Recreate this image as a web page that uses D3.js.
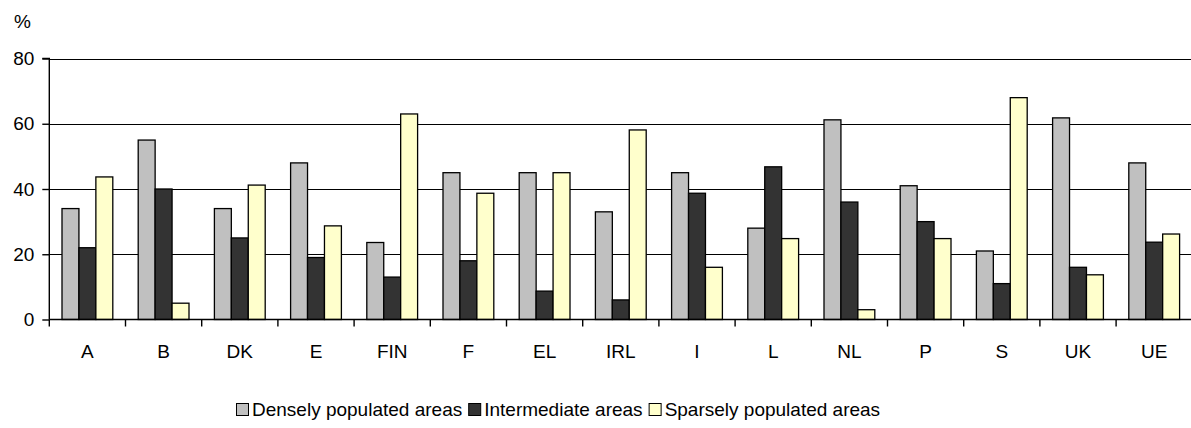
<!DOCTYPE html>
<html>
<head>
<meta charset="utf-8">
<script src="https://cdn.jsdelivr.net/npm/d3@7"></script>
<style>
  html, body { margin: 0; padding: 0; background: #fff; }
  svg { display: block; }
  text { font-family: Arial, "Liberation Sans", sans-serif; fill: #000; }
</style>
</head>
<body>
<script>
const categories = ["A","B","DK","E","FIN","F","EL","IRL","I","L","NL","P","S","UK","UE"];
const densely      = [34, 55, 34, 48, 23.6, 45, 45, 33, 45, 28, 61.2, 41, 21, 61.8, 48];
const intermediate = [22, 40, 25, 19, 13, 18, 8.7, 6, 38.7, 46.8, 36, 30, 11, 16, 23.7];
const sparsely     = [43.7, 5, 41.2, 28.7, 63, 38.7, 45, 58.1, 16, 24.8, 3, 24.8, 68, 13.7, 26.2];
const seriesNames  = ["Densely populated areas", "Intermediate areas", "Sparsely populated areas"];
const seriesColors = ["#c0c0c0", "#333333", "#ffffcc"];
const yTicks       = [0, 20, 40, 60, 80];

const W = 1191, H = 428;
const mLeft = 49.3, mRight = 1192.3, mTop = 58.5, mBottom = 319.5;

const svg = d3.select("body").append("svg").attr("width", W).attr("height", H);

const x = d3.scaleBand().domain(categories).range([mLeft, mRight]).padding(0);
const groupW = x.step() / 1.5;
const xs = d3.scaleBand().domain(d3.range(3)).range([0, groupW]).padding(0);
const y = d3.scaleLinear().domain([0, 80]).range([mBottom, mTop]);

// gridlines
svg.append("g").selectAll("line").data(yTicks.filter(d => d > 0)).join("line")
  .attr("x1", mLeft).attr("x2", mRight)
  .attr("y1", d => Math.round(y(d)) + 0.5).attr("y2", d => Math.round(y(d)) + 0.5)
  .attr("stroke", "#000").attr("stroke-width", 1.1);

// bars
const seriesData = [densely, intermediate, sparsely];
const rows = [];
categories.forEach((c, i) => seriesData.forEach((s, j) => rows.push({c, j, v: s[i]})));
svg.append("g").selectAll("rect").data(rows).join("rect")
  .attr("x", d => x(d.c) + (x.step() - groupW) / 2 + xs(d.j))
  .attr("y", d => y(d.v))
  .attr("width", xs.bandwidth())
  .attr("height", d => y(0) - y(d.v))
  .attr("fill", d => seriesColors[d.j])
  .attr("stroke", "#000").attr("stroke-width", 1.3);

// y axis
const yAxis = d3.axisLeft(y).tickValues(yTicks).tickSize(7).tickPadding(8).tickFormat(d3.format("d"));
const gy = svg.append("g").attr("transform", `translate(${mLeft},0)`).call(yAxis);
gy.select(".domain").attr("stroke", "#000").attr("stroke-width", 1.4).attr("d", `M-7,${mTop}H0V${mBottom}`);
gy.selectAll(".tick line").attr("stroke", "#000").attr("stroke-width", 1.4);
gy.selectAll(".tick text").style("font-size", "19px").style("font-family", "Arial, 'Liberation Sans', sans-serif").attr("fill", "#000");

// x axis: baseline + ticks at category boundaries
const gx = svg.append("g").attr("transform", `translate(0,${mBottom})`);
gx.append("line").attr("x1", mLeft).attr("x2", mRight).attr("y1", 0).attr("y2", 0)
  .attr("stroke", "#000").attr("stroke-width", 1.6);
const bounds = categories.map(c => x(c)).concat([mRight]);
gx.selectAll("line.tk").data(bounds).join("line").attr("class", "tk")
  .attr("x1", d => d).attr("x2", d => d).attr("y1", 0).attr("y2", 7)
  .attr("stroke", "#000").attr("stroke-width", 1.4);
gx.selectAll("text").data(categories).join("text")
  .attr("x", d => x(d) + x.step() / 2)
  .attr("y", 38)
  .attr("text-anchor", "middle")
  .style("font-size", "19px")
  .text(d => d);

// % label
svg.append("text").attr("x", 14).attr("y", 28).style("font-size", "19px").text("%");

// legend
const legend = svg.append("g").attr("transform", "translate(236,416)");
let lx = 0;
seriesNames.forEach((name, i) => {
  legend.append("rect").attr("x", lx + 0.5).attr("y", -12.5).attr("width", 12).attr("height", 12)
    .attr("fill", seriesColors[i]).attr("stroke", "#000").attr("stroke-width", 1);
  const t = legend.append("text").attr("x", lx + 16).attr("y", 0).style("font-size", "19px").text(name);
  lx += 16 + t.node().getComputedTextLength() + 6;
});
</script>
</body>
</html>
